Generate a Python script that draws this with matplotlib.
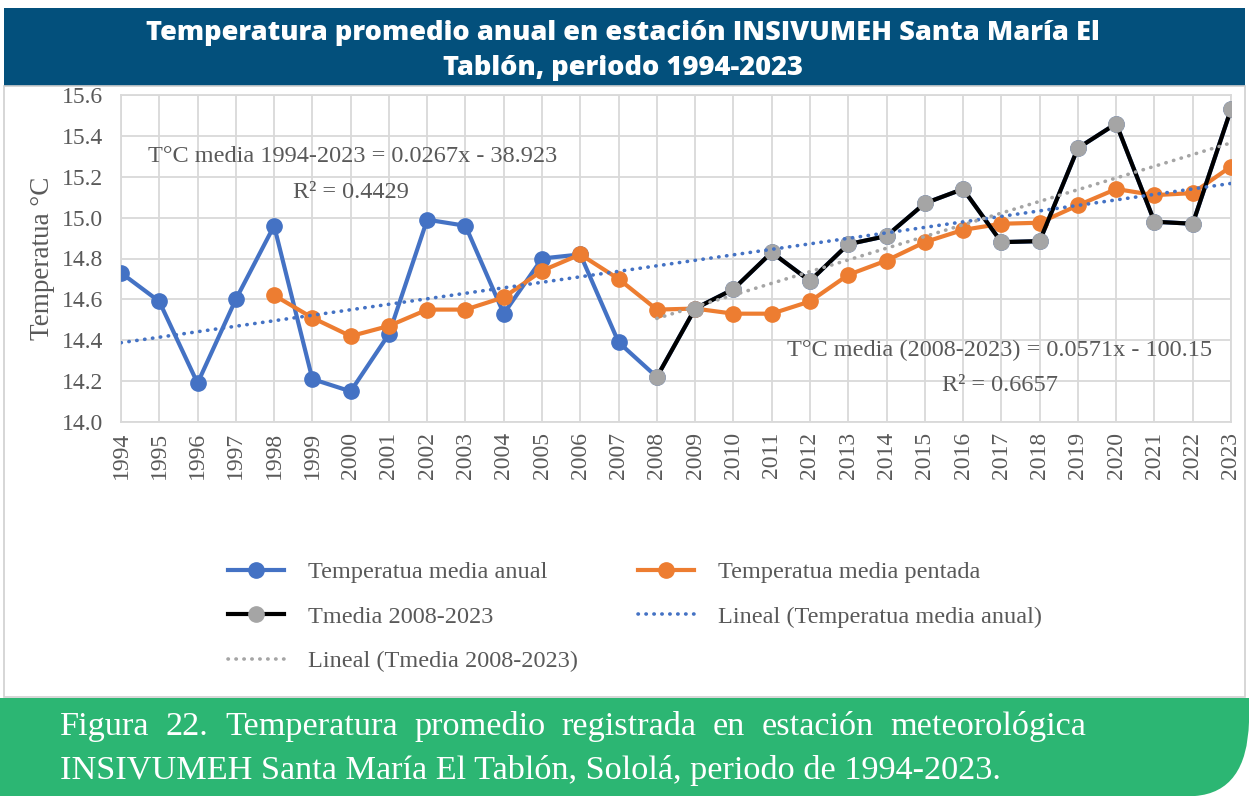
import matplotlib
matplotlib.use('Agg')
import matplotlib.pyplot as plt
import numpy as np
from matplotlib.patches import Rectangle, PathPatch
from matplotlib.path import Path

# ---------------- data ----------------
years = list(range(1994, 2024))
t_anual = [14.73, 14.59, 14.19, 14.60, 14.96, 14.21, 14.15, 14.43, 14.99, 14.96,
           14.53, 14.80, 14.82, 14.39, 14.22, 14.555, 14.65, 14.83, 14.69, 14.87,
           14.91, 15.07, 15.14, 14.88, 14.885, 15.34, 15.46, 14.98, 14.97, 15.53]
pent_years = list(range(1998, 2024))
t_pentada = [14.62, 14.51, 14.42, 14.47, 14.55, 14.55, 14.61, 14.74, 14.82, 14.70,
             14.55, 14.555, 14.53, 14.53, 14.59, 14.72, 14.79, 14.88, 14.94, 14.97,
             14.975, 15.06, 15.14, 15.11, 15.12, 15.25]
rec_years = list(range(2008, 2024))
t_reciente = [14.22, 14.555, 14.65, 14.83, 14.69, 14.87, 14.91, 15.07, 15.14, 14.88,
              14.885, 15.34, 15.46, 14.98, 14.97, 15.53]
yticks = [14.0, 14.2, 14.4, 14.6, 14.8, 15.0, 15.2, 15.4, 15.6]

labels = ["Temperatua media anual", "Temperatua media pentada", "Tmedia 2008-2023",
          "Lineal (Temperatua media anual)", "Lineal (Tmedia 2008-2023)"]
eq1 = "T°C media 1994-2023 = 0.0267x - 38.923"
r1 = "R² = 0.4429"
eq2 = "T°C media (2008-2023) = 0.0571x - 100.15"
r2 = "R² = 0.6657"
title = "Temperatura promedio anual en estación INSIVUMEH Santa María El\nTablón, periodo 1994-2023"
cap1 = "Figura 22. Temperatura promedio registrada en estación meteorológica"
cap2 = "INSIVUMEH Santa María El Tablón, Sololá, periodo de 1994-2023."

# ---------------- style ----------------
W, H = 1249, 796
SERIF = ['Liberation Serif', 'DejaVu Serif']
TXT = '#595959'
BLUE = '#4472C4'
ORANGE = '#ED7D31'
GRAY = '#A5A5A5'
BAND = '#03507C'
GREEN = '#2CB673'

fig = plt.figure(figsize=(W / 100, H / 100), dpi=100)
fig.patch.set_facecolor('white')

def fx(x):
    return x / W

def fy(y):
    return 1 - y / H

# title band
fig.patches.append(Rectangle((fx(4), fy(86)), fx(1241), 78 / H, transform=fig.transFigure,
                             facecolor=BAND, edgecolor='none', zorder=0))
# chart border
fig.patches.append(Rectangle((fx(4), fy(697)), fx(1241), (697 - 86) / H, transform=fig.transFigure,
                             facecolor='none', edgecolor='#D0D0D0', lw=1.2, zorder=0))
# green caption band with rounded corner
verts = [(fx(0), fy(698)), (fx(1249), fy(698)), (fx(1249), fy(722)),
         (fx(1247), fy(792)), (fx(1195), fy(796)), (fx(0), fy(796)), (fx(0), fy(698))]
codes = [Path.MOVETO, Path.LINETO, Path.LINETO, Path.CURVE3, Path.CURVE3, Path.LINETO, Path.CLOSEPOLY]
fig.patches.append(PathPatch(Path(verts, codes), transform=fig.transFigure,
                             facecolor=GREEN, edgecolor='none', zorder=0))

tl = title.split('\n')
fig.text(fx(623), fy(33), tl[0], ha='center', va='center', color='white',
         fontsize=19.6, fontweight=800, family=['Open Sans', 'DejaVu Sans'])
fig.text(fx(623), fy(68), tl[1], ha='center', va='center', color='white',
         fontsize=19.6, fontweight=800, family=['Open Sans', 'DejaVu Sans'])

# ---------------- axes ----------------
ax = fig.add_axes([fx(121), fy(422), fx(1231 - 121), (422 - 95) / H])
ax.set_xlim(1994, 2023)
ax.set_ylim(14.0, 15.6)
ax.set_yticks(yticks)
ax.set_yticklabels([f"{v:.1f}" for v in yticks])
ax.set_xticks(years)
ax.set_xticklabels([str(y) for y in years], rotation=90)
ax.grid(True, color='#D9D9D9', lw=1.3, zorder=0)
for s in ax.spines.values():
    s.set_color('#D9D9D9')
    s.set_linewidth(1.3)
ax.tick_params(length=0, labelcolor=TXT, labelsize=17)
ax.tick_params(axis='y', pad=13)
ax.tick_params(axis='x', pad=7)
for lab in ax.get_xticklabels() + ax.get_yticklabels():
    lab.set_family(SERIF)
ax.set_ylabel("Temperatua °C", fontsize=19.5, color=TXT, family=SERIF, labelpad=5)

mk = dict(marker='o', markersize=11, lw=3)
h1, = ax.plot(years, t_anual, color=BLUE, zorder=3, **mk)
h2, = ax.plot(pent_years, t_pentada, color=ORANGE, zorder=4, **mk)
h3, = ax.plot(rec_years, t_reciente, color='black', markerfacecolor=GRAY,
              markeredgecolor=GRAY, zorder=5, **mk)

c1 = np.polyfit(years, t_anual, 1)
c2 = np.polyfit(rec_years, t_reciente, 1)
xa = np.array([years[0], years[-1]])
xb = np.array([rec_years[0], rec_years[-1]])
dot = dict(lw=2.6, linestyle=(0, (0.1, 2.1)), dash_capstyle='round')
h4, = ax.plot(xa, np.polyval(c1, xa), color=BLUE, zorder=6, **dot)
h5, = ax.plot(xb, np.polyval(c2, xb), color=GRAY, zorder=6, **dot)

# equations
eqkw = dict(ha='center', va='center', color=TXT, fontsize=17.5, family=SERIF)
fig.text(fx(353), fy(157), eq1, **eqkw)
fig.text(fx(351), fy(192), r1, **eqkw)
fig.text(fx(1000), fy(350), eq2, **eqkw)
fig.text(fx(1000), fy(385), r2, **eqkw)

# legend
handles = [h1, h3, h5, h2, h4]
labs = [labels[0], labels[2], labels[4], labels[1], labels[3]]
leg = fig.legend(handles, labs, loc='upper left', bbox_to_anchor=(fx(228), fy(561)),
                 ncol=2, frameon=False, prop={'family': SERIF, 'size': 17.5},
                 handlelength=2.3, handletextpad=1.0, columnspacing=2.46, labelspacing=0.93,
                 borderpad=0, borderaxespad=0)
for t in leg.get_texts():
    t.set_color(TXT)

# caption (first line justified)
def justify(words, x0, x1, ybase, **kw):
    texts = [fig.text(0, 0, w, ha='left', va='baseline', **kw) for w in words]
    fig.canvas.draw()
    r = fig.canvas.get_renderer()
    widths = [t.get_window_extent(r).width for t in texts]
    gap = (x1 - x0 - sum(widths)) / (len(words) - 1)
    x = x0
    for t, w in zip(texts, widths):
        t.set_position((fx(x), fy(ybase)))
        x += w + gap

capkw = dict(color='white', fontsize=24.7, family=SERIF)
justify(cap1.split(' '), 60, 1086, 735, **capkw)
fig.text(fx(60), fy(779), cap2, ha='left', va='baseline', **capkw)

fig.savefig('out.png', dpi=100, facecolor='white')
